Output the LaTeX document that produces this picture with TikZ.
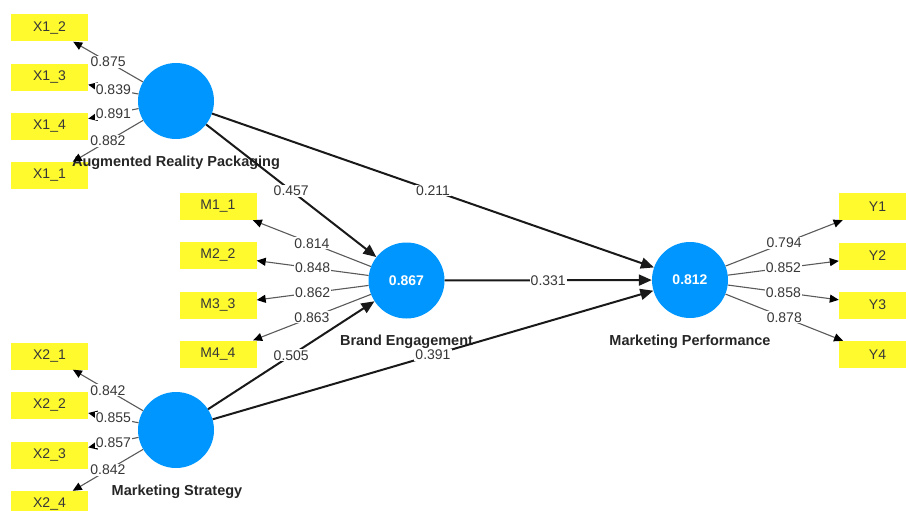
\documentclass[tikz,border=0pt]{standalone}
\usepackage{fontspec}
\setmainfont{Liberation Sans}
\usepackage{tikz}
\usetikzlibrary{arrows.meta}
\definecolor{plsblue}{RGB}{0,150,255}
\definecolor{plsyellow}{RGB}{255,250,45}
\definecolor{txtgray}{RGB}{55,55,55}
\definecolor{linegray}{RGB}{90,90,90}

\begin{document}
\begin{tikzpicture}[x=1pt, y=-1pt,
  >={Triangle[length=9pt, width=8pt, color=black]},
  ind/.style={fill=plsyellow, minimum width=77pt, minimum height=27pt, inner sep=0pt,
              font=\fontsize{14}{16}\selectfont, text=txtgray},
  lv/.style={circle, fill=plsblue, minimum size=76pt, inner sep=0pt, text=white,
             font=\fontsize{14}{16}\selectfont\bfseries},
  lvname/.style={font=\fontsize{14.5}{17}\selectfont\bfseries, text=black!85},
  load/.style={draw=linegray, line width=1.1pt, ->},
  inner/.style={draw=black!90, line width=2pt, -{Triangle[length=13pt, width=11pt]}},
  val/.style={fill=white, inner sep=1pt, font=\fontsize{14}{16}\selectfont, text=txtgray}]
  \useasboundingbox (0,0) rectangle (906,511);
  \clip (0,0) rectangle (906,511);
  \node[ind] (x12) at (49.5,28) {X1\_2};
  \node[ind] (x13) at (49.5,77.5) {X1\_3};
  \node[ind] (x14) at (49.5,126.5) {X1\_4};
  \node[ind] (x11) at (49.5,175.5) {X1\_1};
  \node[ind] (x21) at (49.5,356) {X2\_1};
  \node[ind] (x22) at (49.5,405.5) {X2\_2};
  \node[ind] (x23) at (49.5,455) {X2\_3};
  \node[ind] (x24) at (49.5,504.5) {X2\_4};
  \node[ind] (m11) at (218,206.5) {M1\_1};
  \node[ind] (m22) at (218,255.5) {M2\_2};
  \node[ind] (m33) at (218,305) {M3\_3};
  \node[ind] (m44) at (218,354) {M4\_4};
  \node[ind] (y1) at (877.5,206.5) {Y1};
  \node[ind] (y2) at (877.5,256) {Y2};
  \node[ind] (y3) at (877.5,305) {Y3};
  \node[ind] (y4) at (877.5,354.5) {Y4};
  \node[lv] (arp) at (176,101) {};
  \node[lv] (ms) at (176,430) {};
  \node[lv] (be) at (406.5,280.5) {0.867};
  \node[lv] (mp) at (690,280) {0.812};
  \node[lvname] (arpname) at (176,163) {Augmented Reality Packaging};
  \node[lvname] (msname) at (177,492) {Marketing Strategy};
  \node[lvname] (bename) at (406.5,342) {Brand Engagement};
  \node[lvname] (mpname) at (690,342) {Marketing Performance};
  \draw[load] (arp) -- (x12) node[val, pos=0.5] {0.875};
  \draw[load] (arp) -- (x13) node[val, pos=0.5] {0.839};
  \draw[load] (arp) -- (x14) node[val, pos=0.5] {0.891};
  \draw[load] (arp) -- (x11) node[val, pos=0.5] {0.882};
  \draw[load] (ms) -- (x21) node[val, pos=0.5] {0.842};
  \draw[load] (ms) -- (x22) node[val, pos=0.5] {0.855};
  \draw[load] (ms) -- (x23) node[val, pos=0.5] {0.857};
  \draw[load] (ms) -- (x24) node[val, pos=0.5] {0.842};
  \draw[load] (be) -- (m11) node[val, pos=0.5] {0.814};
  \draw[load] (be) -- (m22) node[val, pos=0.5] {0.848};
  \draw[load] (be) -- (m33) node[val, pos=0.5] {0.862};
  \draw[load] (be) -- (m44) node[val, pos=0.5] {0.863};
  \draw[load] (mp) -- (y1) node[val, pos=0.5] {0.794};
  \draw[load] (mp) -- (y2) node[val, pos=0.5] {0.852};
  \draw[load] (mp) -- (y3) node[val, pos=0.5] {0.858};
  \draw[load] (mp) -- (y4) node[val, pos=0.5] {0.878};
  \draw[inner] (arp) -- (be) node[val, pos=0.5] {0.457};
  \draw[inner] (arp) -- (mp) node[val, pos=0.5] {0.211};
  \draw[inner] (be) -- (mp) node[val, pos=0.5] {0.331};
  \draw[inner] (ms) -- (be) node[val, pos=0.5] {0.505};
  \draw[inner] (ms) -- (mp) node[val, pos=0.5] {0.391};
\end{tikzpicture}
\end{document}
